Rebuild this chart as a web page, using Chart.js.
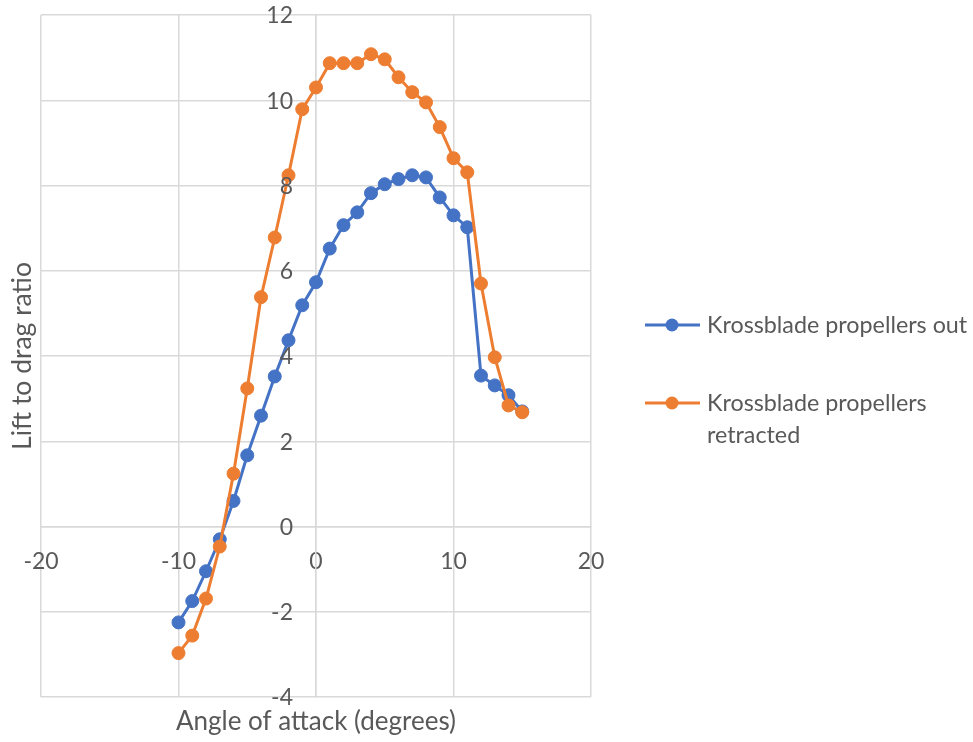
<!DOCTYPE html>
<html>
<head>
<meta charset="utf-8">
<script src="https://cdn.jsdelivr.net/npm/chart.js@4.4.1/dist/chart.umd.min.js"></script>
<style>
  html, body { margin: 0; padding: 0; background: #ffffff; }
  #wrap { width: 973px; height: 742px; position: relative; }
</style>
</head>
<body>
<div id="wrap"><canvas id="c" width="973" height="742"></canvas></div>
<script>
// ---- data ----
const angles = [-10, -9, -8, -7, -6, -5, -4, -3, -2, -1, 0, 1, 2, 3, 4, 5, 6, 7, 8, 9, 10, 11, 12, 13, 14, 15];
const propellersOut = [-2.25, -1.75, -1.05, -0.3, 0.6, 1.67, 2.6, 3.52, 4.37, 5.19, 5.73, 6.52, 7.07, 7.37, 7.82, 8.03, 8.15, 8.24, 8.19, 7.72, 7.3, 7.02, 3.54, 3.31, 3.08, 2.7];
const propellersRetracted = [-2.97, -2.56, -1.69, -0.47, 1.24, 3.24, 5.38, 6.78, 8.24, 9.79, 10.3, 10.87, 10.87, 10.87, 11.08, 10.96, 10.54, 10.19, 9.95, 9.37, 8.64, 8.31, 5.7, 3.97, 2.84, 2.68];
const seriesNames = ["Krossblade propellers out", "Krossblade propellers retracted"];
const legendLines = [["Krossblade propellers out"], ["Krossblade propellers", "retracted"]];
const xTicks = [-20, -10, 0, 10, 20];
const yTicks = [-4, -2, 0, 2, 4, 6, 8, 10, 12];
const xTitle = "Angle of attack (degrees)";
const yTitle = "Lift to drag ratio";

const FONT = "Lato, 'Open Sans', sans-serif";
const TEXT = "#595959";
const GRID = "#d9d9d9";
const BLUE = "#4472C4";
const ORANGE = "#ED7D31";

function pts(ys) { return angles.map((a, i) => ({ x: a, y: ys[i] })); }

const decor = {
  id: 'decor',
  afterDraw(chart) {
    const ctx = chart.ctx;
    const ca = chart.chartArea;
    ctx.save();
    ctx.fillStyle = TEXT;
    // x title
    ctx.font = "26px " + FONT;
    ctx.textAlign = 'center';
    ctx.textBaseline = 'middle';
    ctx.fillText(xTitle, (ca.left + ca.right) / 2, 722);
    // y title
    ctx.save();
    ctx.translate(22, (ca.top + ca.bottom) / 2);
    ctx.rotate(-Math.PI / 2);
    ctx.font = "26.5px " + FONT;
    ctx.fillText(yTitle, 0, 0);
    ctx.restore();
    // y tick labels beside the crossing axis
    const xs = chart.scales.x, ys = chart.scales.y;
    const ax = xs.getPixelForValue(0);
    ctx.font = "23px " + FONT;
    ctx.textAlign = 'right';
    ctx.textBaseline = 'middle';
    yTicks.forEach(v => ctx.fillText(String(v), ax - 23, ys.getPixelForValue(v) + 1));
    // legend
    const colors = [BLUE, ORANGE];
    const rowsY = [325, 403];
    ctx.font = "23.3px " + FONT;
    chart.data.datasets.forEach((ds, i) => {
      const y = rowsY[i];
      ctx.strokeStyle = colors[i];
      ctx.lineWidth = 3;
      ctx.beginPath();
      ctx.moveTo(645, y); ctx.lineTo(700, y); ctx.stroke();
      ctx.fillStyle = colors[i];
      ctx.beginPath(); ctx.arc(672, y, 6.5, 0, Math.PI * 2); ctx.fill();
      ctx.fillStyle = TEXT;
      ctx.textAlign = 'left';
      legendLines[i].forEach((t, k) => ctx.fillText(t, 707, y + k * 32));
    });
    ctx.restore();
  }
};

new Chart(document.getElementById('c'), {
  type: 'scatter',
  data: {
    datasets: [
      { label: seriesNames[0], data: pts(propellersOut), showLine: true, borderColor: BLUE, backgroundColor: BLUE,
        pointBackgroundColor: BLUE, pointBorderColor: BLUE, borderWidth: 3, pointRadius: 6.5, pointBorderWidth: 1, order: 1 },
      { label: seriesNames[1], data: pts(propellersRetracted), showLine: true, borderColor: ORANGE, backgroundColor: ORANGE,
        pointBackgroundColor: ORANGE, pointBorderColor: ORANGE, borderWidth: 3, pointRadius: 6.5, pointBorderWidth: 1, order: 0 }
    ]
  },
  options: {
    responsive: false,
    animation: false,
    layout: { padding: { left: 41, top: 15, right: 382, bottom: 45 } },
    plugins: { legend: { display: false }, tooltip: { enabled: false } },
    scales: {
      x: {
        type: 'linear', min: -20, max: 20, position: { y: 0 },
        afterBuildTicks: s => { s.ticks = xTicks.map(v => ({ value: v })); },
        grid: { color: GRID, lineWidth: 1.5, drawTicks: false },
        border: { color: GRID, width: 1.5 },
        ticks: { color: TEXT, font: { family: FONT, size: 23 }, padding: 21, maxRotation: 0 }
      },
      y: {
        type: 'linear', min: -4, max: 12, position: { x: 0 },
        afterBuildTicks: s => { s.ticks = yTicks.map(v => ({ value: v })); },
        grid: { color: GRID, lineWidth: 1.5, drawTicks: false },
        border: { color: GRID, width: 1.5 },
        ticks: { display: false }
      }
    }
  },
  plugins: [decor]
});
</script>
</body>
</html>
